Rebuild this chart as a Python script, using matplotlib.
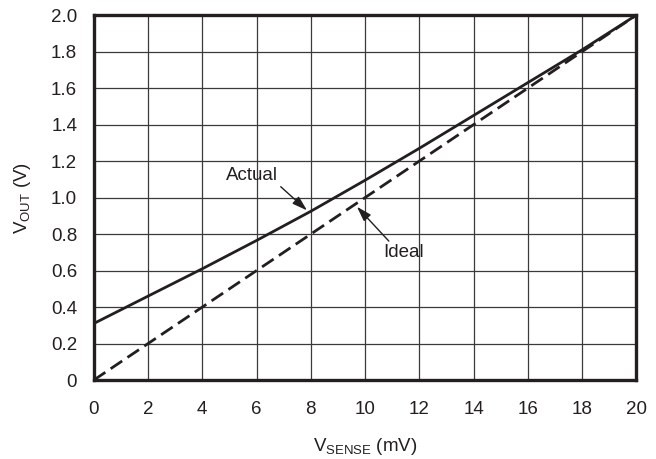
import matplotlib.pyplot as plt
import numpy as np

plt.rcParams['font.family'] = ['Liberation Sans', 'DejaVu Sans']
plt.rcParams['mathtext.default'] = 'regular'

ink = '#231f20'

# output voltage vs. sense voltage
v_sense = [0, 2, 4, 6, 8, 10, 12, 14, 16, 18, 20]
v_actual = [0.31, 0.46, 0.61, 0.765, 0.925, 1.095, 1.27, 1.45, 1.63, 1.81, 2.0]
v_ideal = [0.0, 0.2, 0.4, 0.6, 0.8, 1.0, 1.2, 1.4, 1.6, 1.8, 2.0]

x_ticks = list(range(0, 21, 2))
y_ticks = [0, 0.2, 0.4, 0.6, 0.8, 1.0, 1.2, 1.4, 1.6, 1.8, 2.0]
y_labels = ['0'] + ['%.1f' % v for v in y_ticks[1:]]

fs = 13.5

fig = plt.figure(figsize=(6.56, 4.59), dpi=100)
ax = fig.add_axes([0.143, 0.172, 0.827, 0.795])

ax.plot(v_sense, v_actual, color=ink, lw=2.0, solid_capstyle='butt', zorder=3)
ax.plot(v_sense, v_ideal, color=ink, lw=2.0, dashes=(5.0, 2.3), zorder=3)

ax.set_xlim(0, 20)
ax.set_ylim(0, 2.0)
ax.set_xticks(x_ticks)
ax.set_yticks(y_ticks)
ax.set_yticklabels(y_labels)
ax.tick_params(length=0, labelsize=fs, colors=ink)
ax.tick_params(axis='x', pad=15)
ax.tick_params(axis='y', pad=12)
ax.grid(True, color='#3a3a3a', lw=0.9)
ax.set_axisbelow(True)
for s in ax.spines.values():
    s.set_linewidth(2.4)
    s.set_color(ink)

ax.set_xlabel('$V_{SENSE}$ (mV)', fontsize=fs, color=ink, labelpad=13)
ax.set_ylabel('$V_{OUT}$ (V)', fontsize=fs, color=ink, labelpad=13)

arrow = dict(arrowstyle='-|>,head_length=0.7,head_width=0.22', color=ink,
             lw=1.0, mutation_scale=13, shrinkA=0, shrinkB=0)
ax.annotate('Actual', xy=(7.86, 0.93), xytext=(5.83, 1.12),
            fontsize=fs, color=ink, ha='center', va='center',
            arrowprops=dict(arrow, relpos=(1.0, 0.0)))
ax.annotate('Ideal', xy=(9.7, 0.95), xytext=(11.42, 0.70),
            fontsize=fs, color=ink, ha='center', va='center',
            arrowprops=dict(arrow, relpos=(0.2, 1.0)))

fig.savefig('out.png', dpi=100)
